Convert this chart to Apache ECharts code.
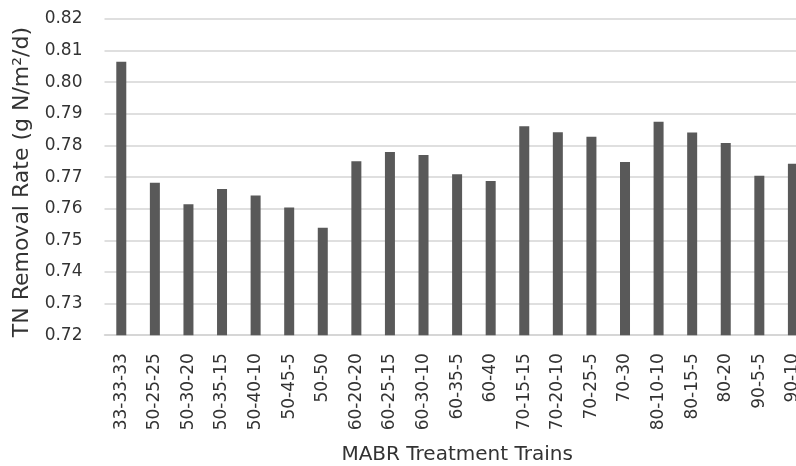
<!DOCTYPE html>
<html>
<head>
<meta charset="utf-8">
<script src="https://cdn.jsdelivr.net/npm/echarts@6/dist/echarts.min.js"></script>
<style>
  html, body { margin: 0; padding: 0; background: #ffffff; }
  #chart { width: 796px; height: 466px; }
</style>
</head>
<body>
<div id="chart"></div>
<script>
// Treatment train labels (flow split percentages)
const trains = [
  '33-33-33', '50-25-25', '50-30-20', '50-35-15', '50-40-10', '50-45-5', '50-50',
  '60-20-20', '60-25-15', '60-30-10', '60-35-5', '60-40',
  '70-15-15', '70-20-10', '70-25-5', '70-30',
  '80-10-10', '80-15-5', '80-20',
  '90-5-5', '90-10'
];

// TN removal rate per train (g N/m²/d)
const tnRemoval = [
  0.8065, 0.7682, 0.7614, 0.7662, 0.7642, 0.7604, 0.7540,
  0.7750, 0.7779, 0.7770, 0.7709, 0.7688,
  0.7861, 0.7842, 0.7828, 0.7748,
  0.7875, 0.7841, 0.7808,
  0.7704, 0.7742
];

// Value axis range
const yMin = 0.72;
const yMax = 0.82;
const yStep = 0.01;

const FONT = '"DejaVu Sans", "Open Sans", sans-serif';
const TEXT = '#333333';

const chart = echarts.init(document.getElementById('chart'), null, { renderer: 'canvas' });

chart.setOption({
  animation: false,
  backgroundColor: '#ffffff',
  // plot area runs a little past the right edge of the canvas
  grid: {
    left: 104.5, width: 705.2, top: 19, bottom: 130.8,
    containLabel: false,
    outerBoundsMode: 'none'
  },
  xAxis: {
    type: 'category',
    data: trains,
    name: 'MABR Treatment Trains',
    nameLocation: 'middle',
    nameGap: 110,
    nameTextStyle: { fontFamily: FONT, fontSize: 20, color: TEXT },
    axisLine: { show: true, lineStyle: { color: '#d4d4d4', width: 1.5 } },
    axisTick: { show: false },
    axisLabel: {
      interval: 0,
      rotate: 90,
      margin: 18,
      fontFamily: FONT,
      fontSize: 17,
      color: TEXT
    }
  },
  yAxis: {
    type: 'value',
    min: yMin,
    max: yMax,
    interval: yStep,
    name: 'TN Removal Rate (g N/m²/d)',
    nameLocation: 'middle',
    nameGap: 69,
    nameTextStyle: { fontFamily: FONT, fontSize: 22, color: TEXT, padding: [0, 10, 0, 0] },
    axisLine: { show: false },
    axisTick: { show: false },
    axisLabel: {
      margin: 22,
      fontFamily: FONT,
      fontSize: 17,
      color: TEXT,
      formatter: v => v.toFixed(2)
    },
    splitLine: { show: true, lineStyle: { color: '#d4d4d4', width: 1.5 } }
  },
  series: [{
    type: 'bar',
    data: tnRemoval,
    barWidth: 10,
    itemStyle: { color: '#595959' }
  }]
});
</script>
</body>
</html>
